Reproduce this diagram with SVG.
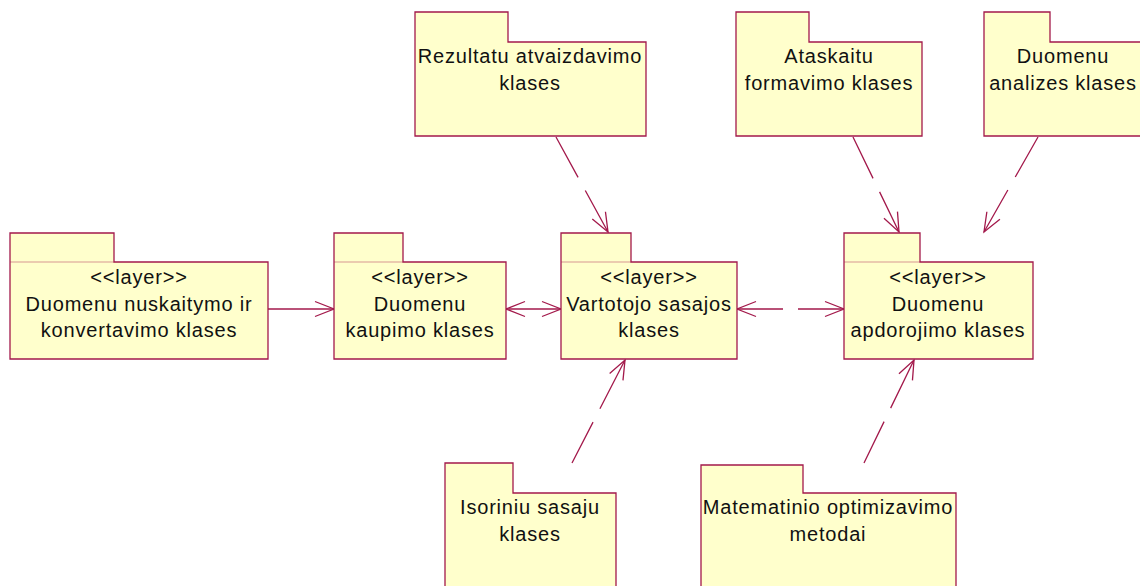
<svg xmlns="http://www.w3.org/2000/svg" width="1140" height="586" viewBox="0 0 1140 586">
  <style>
    .pkg { fill: #FFFFCC; stroke: #A3194B; stroke-width: 1.3; }
    .seam { stroke: #A3194B; stroke-width: 1; stroke-opacity: 0.45; }
    .lbl { font-family: "Liberation Sans", Arial, sans-serif; font-size: 20px; letter-spacing: 0.8px; fill: #111; text-anchor: middle; }
    .link { stroke: #A3194B; stroke-width: 1.3; fill: none; }
    .dep { stroke-dasharray: 46 15 400; }
    .to { marker-end: url(#open); }
    .both { marker-start: url(#open); marker-end: url(#open); }
  </style>
  <defs>
    <marker id="open" markerUnits="userSpaceOnUse" markerWidth="24" markerHeight="20" viewBox="-21 -10 22 20" refX="0" refY="0" orient="auto-start-reverse">
      <path d="M-19,-7.5 L0,0 L-19,7.5" fill="none" stroke="#A3194B" stroke-width="1.3"/>
    </marker>
  </defs>

  <rect width="1140" height="586" fill="#FFFFFF"/>

  <!-- connectors -->
  <g id="connectors">
    <line class="link to" x1="268" y1="309" x2="334" y2="309"/>
    <line class="link both" x1="506" y1="309" x2="561" y2="309"/>
    <line class="link dep both" x1="737" y1="309" x2="844" y2="309"/>
    <line class="link dep to" x1="556" y1="137" x2="608" y2="232"/>
    <line class="link dep to" x1="853" y1="137" x2="899" y2="232"/>
    <line class="link dep to" x1="1038" y1="137" x2="984" y2="232"/>
    <line class="link dep to" x1="572" y1="463" x2="625" y2="360"/>
    <line class="link dep to" x1="864" y1="463" x2="914" y2="360"/>
  </g>

  <!-- layer packages -->
  <g id="nuskaitymo">
    <path class="pkg" d="M10,262 V233 H114 V262 H268 V359 H10 Z"/>
    <line class="seam" x1="10" y1="262" x2="114" y2="262"/>
    <text class="lbl" x="139" y="284">&lt;&lt;layer&gt;&gt;</text>
    <text class="lbl" x="139" y="311">Duomenu nuskaitymo ir</text>
    <text class="lbl" x="139" y="337">konvertavimo klases</text>
  </g>
  <g id="kaupimo">
    <path class="pkg" d="M334,262 V233 H403 V262 H506 V359 H334 Z"/>
    <line class="seam" x1="334" y1="262" x2="403" y2="262"/>
    <text class="lbl" x="420" y="284">&lt;&lt;layer&gt;&gt;</text>
    <text class="lbl" x="420" y="311">Duomenu</text>
    <text class="lbl" x="420" y="337">kaupimo klases</text>
  </g>
  <g id="vartotojo">
    <path class="pkg" d="M561,262 V233 H631 V262 H737 V359 H561 Z"/>
    <line class="seam" x1="561" y1="262" x2="631" y2="262"/>
    <text class="lbl" x="649" y="284">&lt;&lt;layer&gt;&gt;</text>
    <text class="lbl" x="649" y="311">Vartotojo sasajos</text>
    <text class="lbl" x="649" y="337">klases</text>
  </g>
  <g id="apdorojimo">
    <path class="pkg" d="M844,262 V233 H920 V262 H1033 V359 H844 Z"/>
    <line class="seam" x1="844" y1="262" x2="920" y2="262"/>
    <text class="lbl" x="938" y="284">&lt;&lt;layer&gt;&gt;</text>
    <text class="lbl" x="938" y="311">Duomenu</text>
    <text class="lbl" x="938" y="337">apdorojimo klases</text>
  </g>

  <!-- upper packages -->
  <g id="rezultatu">
    <path class="pkg" d="M415,42 V12 H508 V42 H646 V136 H415 Z"/>
    <text class="lbl" x="530" y="63">Rezultatu atvaizdavimo</text>
    <text class="lbl" x="530" y="90">klases</text>
  </g>
  <g id="ataskaitu">
    <path class="pkg" d="M736,42 V12 H809 V42 H922 V136 H736 Z"/>
    <text class="lbl" x="829" y="63">Ataskaitu</text>
    <text class="lbl" x="829" y="90">formavimo klases</text>
  </g>
  <g id="analizes">
    <path class="pkg" d="M984,42 V12 H1050 V42 H1142 V136 H984 Z"/>
    <text class="lbl" x="1063" y="63">Duomenu</text>
    <text class="lbl" x="1063" y="90">analizes klases</text>
  </g>

  <!-- lower packages -->
  <g id="isoriniu">
    <path class="pkg" d="M445,493 V463 H513 V493 H616 V590 H445 Z"/>
    <text class="lbl" x="530" y="514">Isoriniu sasaju</text>
    <text class="lbl" x="530" y="541">klases</text>
  </g>
  <g id="matematinio">
    <path class="pkg" d="M701,493 V465 H803 V493 H956 V590 H701 Z"/>
    <text class="lbl" x="828" y="514">Matematinio optimizavimo</text>
    <text class="lbl" x="828" y="541">metodai</text>
  </g>
</svg>
